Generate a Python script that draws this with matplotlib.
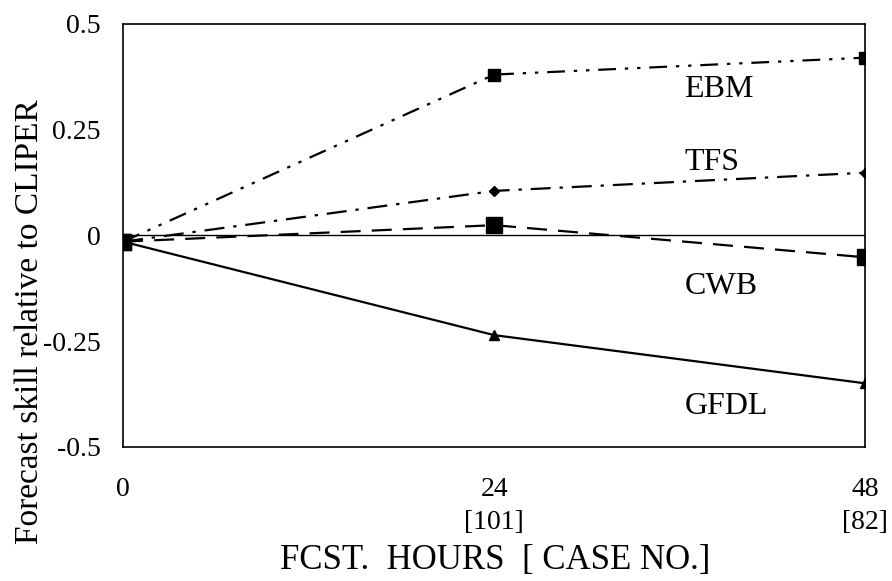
import matplotlib
matplotlib.use("Agg")
import matplotlib.pyplot as plt

hours = [0, 24, 48]
case_no = ["", "[101]", "[82]"]
ebm = [-0.015, 0.38, 0.42]
tfs = [-0.015, 0.105, 0.148]
cwb = [-0.015, 0.024, -0.052]
gfdl = [-0.015, -0.236, -0.35]
model_names = ["EBM", "TFS", "CWB", "GFDL"]
label_y = [0.345, 0.172, -0.12, -0.404]
yticks = [-0.5, -0.25, 0, 0.25, 0.5]
ytick_labels = ["-0.5", "-0.25", "0", "0.25", "0.5"]

plt.rcParams['font.family'] = ['Liberation Serif', 'DejaVu Serif']

fig = plt.figure(figsize=(8.92, 5.81), dpi=100)
ax = fig.add_axes([0.138, 0.231, 0.832, 0.728])

ax.axhline(0, color='black', lw=1.0)

# EBM: tiret-point-point, TFS: tiret-point, CWB: tirets, GFDL: plein
ax.plot(hours, ebm, color='black', lw=1.6, dashes=[8, 4, 1.5, 4, 1.5, 4],
        marker='s', ms=8)
ax.plot(hours, tfs, color='black', lw=1.6, dashes=[9, 4, 1.5, 4],
        marker='D', ms=5)
ax.plot(hours, cwb, color='black', lw=1.6, dashes=[9, 5],
        marker='s', ms=12)
ax.plot(hours, gfdl, color='black', lw=1.6, marker='^', ms=7)
ax.plot([0], [-0.015], color='black', marker='s', ms=12)

for name, y in zip(model_names, label_y):
    ax.text(36.3, y, name, fontsize=23, va='center', ha='left')

ax.set_xlim(0, 48)
ax.set_ylim(-0.5, 0.5)
ax.set_xticks(hours)
ax.set_xticklabels([str(h) for h in hours])
ax.set_yticks(yticks)
ax.set_yticklabels(ytick_labels)
ax.tick_params(length=0, labelsize=20)
ax.tick_params(axis='x', pad=22)
ax.tick_params(axis='y', pad=16)

# nombre de cas sous les heures
for h, c in zip(hours, case_no):
    ax.text(h, -0.18, c, transform=ax.get_xaxis_transform(), fontsize=20,
            ha='center', va='center')

for s in ax.spines.values():
    s.set_linewidth(1.2)

fig.text(495 / 892, 1 - 560 / 581, "FCST.  HOURS  [ CASE NO.]", fontsize=25,
         ha='center', va='center')
fig.text(30 / 892, 1 - 322 / 581, "Forecast skill relative to CLIPER",
         fontsize=24, rotation=90, ha='center', va='center')

fig.savefig("out.png", dpi=100)
